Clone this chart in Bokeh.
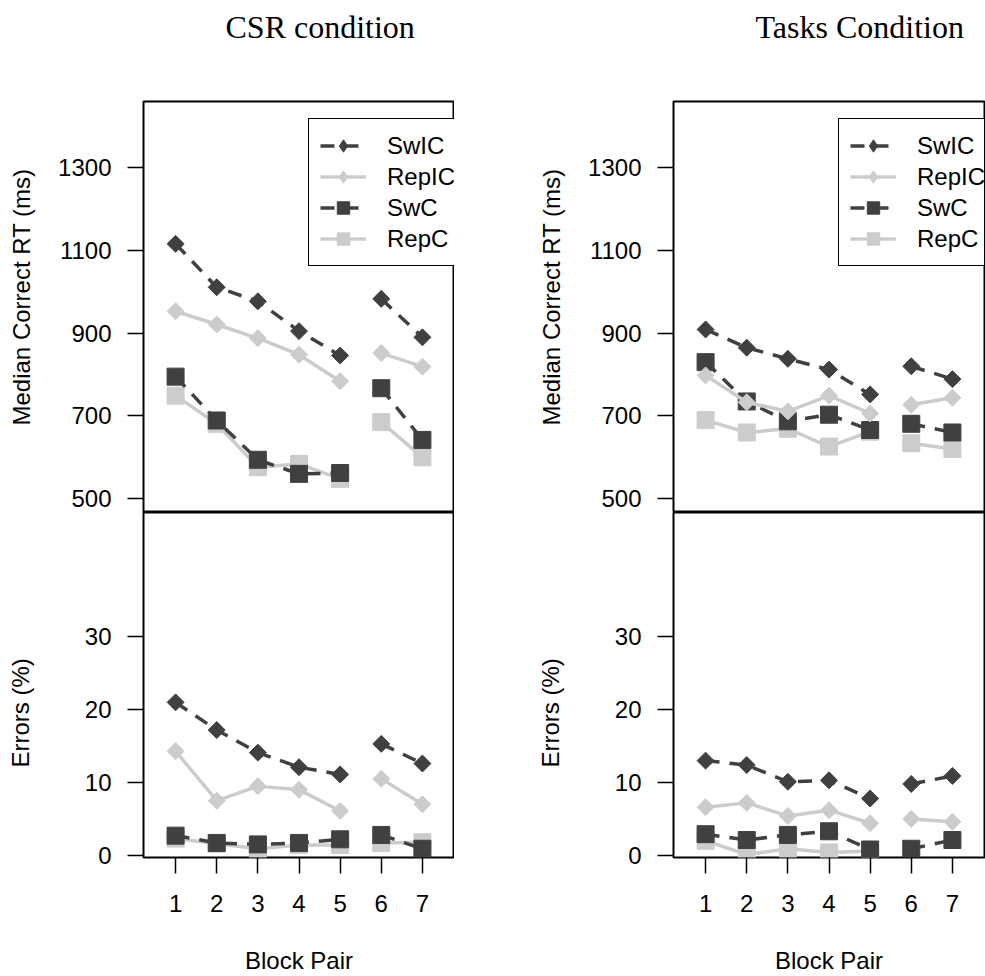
import math
from bokeh.plotting import figure
from bokeh.models import Range1d, FixedTicker, Title, Legend, LegendItem
from bokeh.layouts import row, column
from bokeh.embed import file_html
from bokeh.resources import INLINE

# ---------------- data ----------------
block_pair = [1, 2, 3, 4, 5, 6, 7]
series_names = ["SwIC", "RepIC", "SwC", "RepC"]

# CSR condition, median correct RT (ms)
csr_rt_swic = [1116, 1011, 977, 905, 846, 983, 890]
csr_rt_repic = [953, 921, 888, 848, 784, 852, 819]
csr_rt_swc = [795, 689, 594, 560, 562, 767, 642]
csr_rt_repc = [749, 681, 576, 584, 548, 685, 600]

# Tasks condition, median correct RT (ms)
tasks_rt_swic = [909, 865, 838, 812, 752, 820, 789]
tasks_rt_repic = [798, 733, 711, 749, 706, 727, 744]
tasks_rt_swc = [830, 735, 687, 703, 666, 681, 660]
tasks_rt_repc = [690, 660, 669, 626, 662, 634, 620]

# CSR condition, errors (%)
csr_err_swic = [21.0, 17.2, 14.1, 12.1, 11.1, 15.3, 12.6]
csr_err_repic = [14.3, 7.5, 9.5, 9.0, 6.1, 10.5, 7.0]
csr_err_swc = [2.7, 1.7, 1.5, 1.7, 2.2, 2.8, 0.9]
csr_err_repc = [2.3, 1.6, 0.9, 1.4, 1.4, 1.7, 1.8]

# Tasks condition, errors (%)
tasks_err_swic = [13.0, 12.4, 10.1, 10.3, 7.8, 9.8, 10.9]
tasks_err_repic = [6.6, 7.2, 5.4, 6.2, 4.4, 5.0, 4.6]
tasks_err_swc = [2.9, 2.1, 2.8, 3.3, 0.8, 0.9, 2.1]
tasks_err_repc = [2.0, 0.1, 0.9, 0.4, 0.6, float("nan"), float("nan")]

rt_ticks = [500, 700, 900, 1100, 1300]
err_ticks = [0, 10, 20, 30]

# ---------------- styles ----------------
DARK = "#404040"
LIGHT = "#cccccc"
FONT = "Liberation Sans"
STYLE = {
    "SwIC": dict(color=DARK, dash="14 10", angle=math.pi / 4, size=12, diamond=True),
    "RepIC": dict(color=LIGHT, dash="solid", angle=math.pi / 4, size=12, diamond=True),
    "SwC": dict(color=DARK, dash="14 10", angle=0.0, size=17, diamond=False),
    "RepC": dict(color=LIGHT, dash="solid", angle=0.0, size=17, diamond=False),
}
DRAW_ORDER = ["RepC", "SwC", "RepIC", "SwIC"]

RT_RANGE = (466.6, 1460)
ERR_RANGE = (-0.3, 47.07)


def spacer(px, standoff):
    return Title(text=" ", text_font_size=px, standoff=standoff, text_font=FONT)


def make_fig(top, yr, ticks, left_border, right_border, title=None, ylabel="",
             ylabel_offset=0, left_gap=17):
    p = figure(
        frame_width=311,
        frame_height=411 if top else 345,
        x_range=Range1d(0.22, 7.78),
        y_range=Range1d(*yr),
        output_backend="svg",
        toolbar_location=None,
        x_axis_location=None if top else "below",
        min_border_left=left_border,
        min_border_right=right_border,
        min_border_top=101 if top else 0,
        min_border_bottom=0 if top else 119,
    )
    p.background_fill_color = "white"
    p.border_fill_color = "white"
    p.outline_line_color = "black"
    p.outline_line_width = 2
    p.outline_line_alpha = 1
    p.xgrid.visible = False
    p.ygrid.visible = False

    axes = list(p.yaxis) + ([] if top else list(p.xaxis))
    for ax in axes:
        ax.axis_line_color = None
        ax.major_tick_in = 0
        ax.major_tick_out = 16
        ax.minor_tick_in = 0
        ax.minor_tick_out = 0
        ax.major_tick_line_color = "black"
        ax.major_tick_line_width = 1.5
        ax.major_label_text_font = FONT
        ax.major_label_text_font_size = "24px"
        ax.major_label_text_color = "black"
    p.yaxis.ticker = FixedTicker(ticks=ticks)
    p.yaxis.major_label_standoff = 16
    if not top:
        p.xaxis.ticker = FixedTicker(ticks=block_pair)
        p.xaxis.major_label_standoff = 21
        p.xaxis.axis_label = "Block Pair"
        p.xaxis.axis_label_text_font = FONT
        p.xaxis.axis_label_text_font_size = "24px"
        p.xaxis.axis_label_text_font_style = "normal"
        p.xaxis.axis_label_text_color = "black"
        p.xaxis.axis_label_standoff = 32

    if title:
        # the plot title is laid out outermost; a blank spacer sits between it and the frame
        p.title.text = title
        p.title.align = "left"
        p.title.offset = 82
        p.title.standoff = 0
        p.title.text_font = "Liberation Serif"
        p.title.text_font_size = "32px"
        p.title.text_font_style = "normal"
        p.title.text_color = "black"
        p.add_layout(spacer("10px", 44), "above")

    p.add_layout(spacer("2px", left_gap), "left")
    yt = Title(text=ylabel, align="left", offset=ylabel_offset, standoff=0,
               text_font=FONT, text_font_size="24px", text_font_style="normal",
               text_color="black")
    p.add_layout(yt, "left")
    return p


def draw_series(p, data):
    legend_renderers = {}
    for name in DRAW_ORDER:
        st = STYLE[name]
        vals = data[name]
        l1 = p.line(block_pair[:5], vals[:5], line_color=st["color"], line_width=3.5,
                    line_dash=st["dash"])
        p.line(block_pair[5:], vals[5:], line_color=st["color"], line_width=3.5,
               line_dash=st["dash"])
        sc = p.scatter(block_pair, vals, marker="square", size=st["size"], angle=st["angle"],
                       fill_color=st["color"], line_color=st["color"], line_width=1)
        if st["diamond"]:
            # legend key marker (diamond); hidden in the plot area
            key = p.scatter(block_pair, vals, marker="diamond", size=st["size"],
                            fill_color=st["color"], line_color=st["color"], visible=False)
            legend_renderers[name] = [l1, key]
        else:
            legend_renderers[name] = [l1, sc]
    return legend_renderers


def add_legend(p, renderers):
    items = [LegendItem(label=n, renderers=renderers[n]) for n in series_names]
    lg = Legend(items=items, location=(165, 246), padding=11, spacing=0, margin=0,
                label_height=31, glyph_height=31, glyph_width=46, label_standoff=21,
                label_width=80,
                label_text_font=FONT, label_text_font_size="24px", label_text_color="black",
                border_line_color="black", border_line_width=1.5, border_line_alpha=1,
                background_fill_color="white", background_fill_alpha=1,
                inactive_fill_alpha=0)
    p.add_layout(lg)


p_csr_rt = make_fig(True, RT_RANGE, rt_ticks, 143, 0, title="CSR condition",
                    ylabel="Median Correct RT (ms)", ylabel_offset=87, left_gap=17)
r = draw_series(p_csr_rt, {"SwIC": csr_rt_swic, "RepIC": csr_rt_repic, "SwC": csr_rt_swc, "RepC": csr_rt_repc})
add_legend(p_csr_rt, r)

p_tasks_rt = make_fig(True, RT_RANGE, rt_ticks, 219, 1, title="Tasks Condition",
                      ylabel="Median Correct RT (ms)", ylabel_offset=87, left_gap=17)
r = draw_series(p_tasks_rt, {"SwIC": tasks_rt_swic, "RepIC": tasks_rt_repic, "SwC": tasks_rt_swc, "RepC": tasks_rt_repc})
add_legend(p_tasks_rt, r)

p_csr_err = make_fig(False, ERR_RANGE, err_ticks, 143, 0,
                     ylabel="Errors (%)", ylabel_offset=90, left_gap=44)
draw_series(p_csr_err, {"SwIC": csr_err_swic, "RepIC": csr_err_repic, "SwC": csr_err_swc, "RepC": csr_err_repc})

p_tasks_err = make_fig(False, ERR_RANGE, err_ticks, 219, 1,
                       ylabel="Errors (%)", ylabel_offset=90, left_gap=44)
draw_series(p_tasks_err, {"SwIC": tasks_err_swic, "RepIC": tasks_err_repic, "SwC": tasks_err_swc, "RepC": tasks_err_repc})

layout = row(column(p_csr_rt, p_csr_err), column(p_tasks_rt, p_tasks_err))

open("out.html", "w").write(file_html(layout, INLINE, title="CSR vs Tasks"))
